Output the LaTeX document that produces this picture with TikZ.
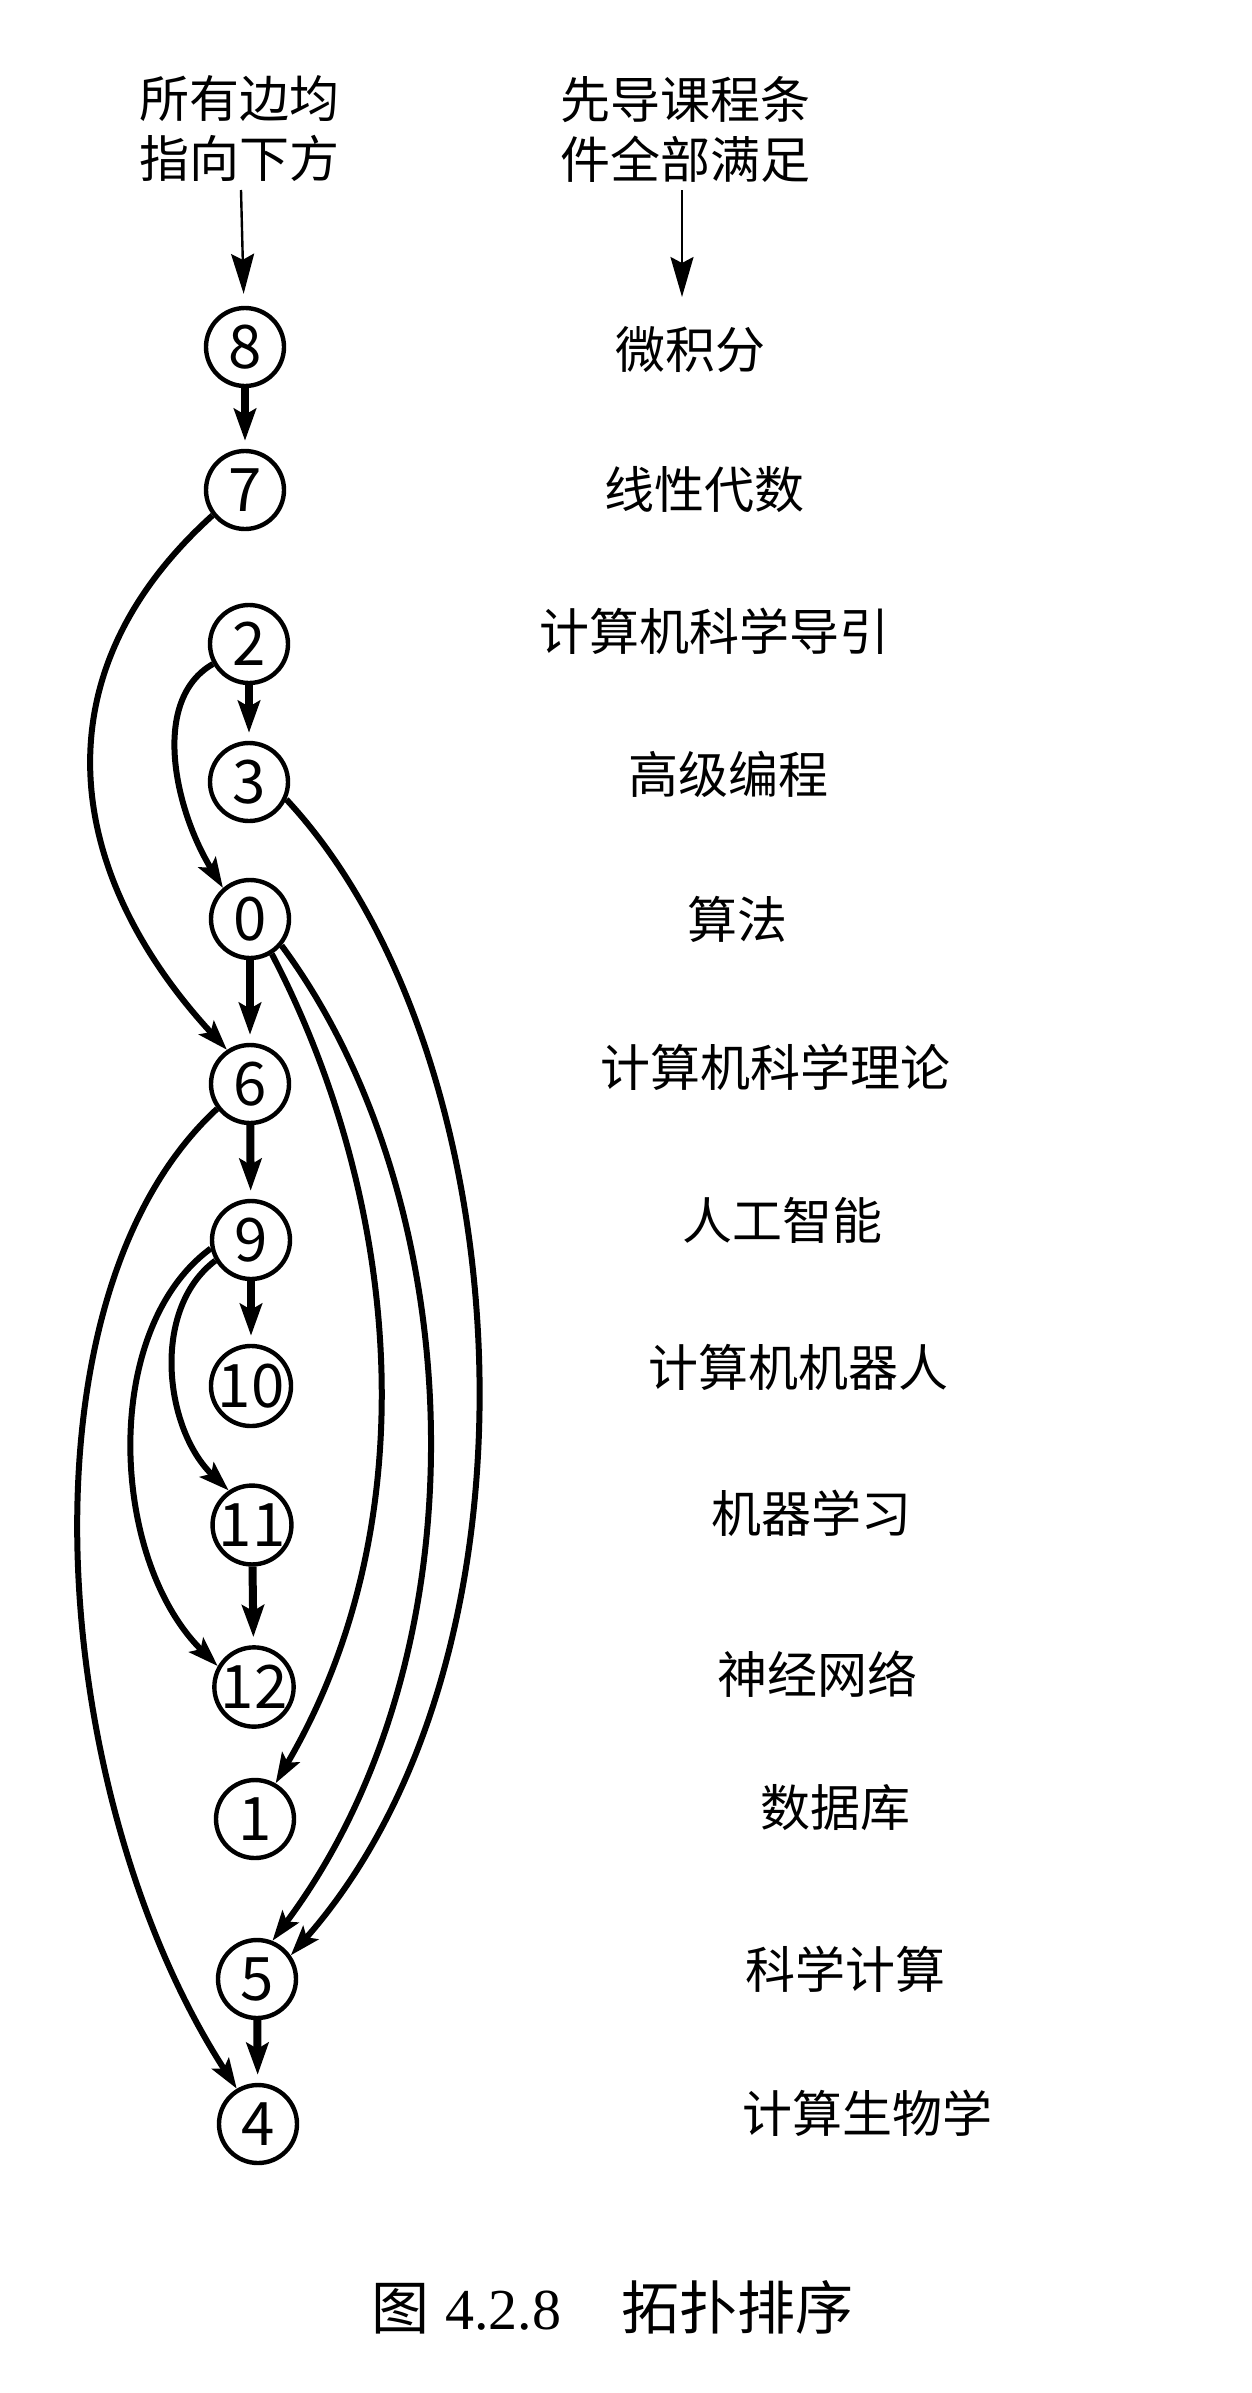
\documentclass[tikz,border=0pt]{standalone}
\usepackage{fontspec}
\setmainfont{Liberation Serif}
\newfontfamily\cjk{Noto Sans CJK SC}
\usetikzlibrary{arrows.meta}
\tikzset{
  vertex/.style={circle,draw,line width=2.2pt,minimum size=39pt,inner sep=0pt,
    font=\cjk\fontsize{30pt}{30pt}\selectfont},
  course/.style={inner sep=0pt,font=\cjk\fontsize{25pt}{30pt}\selectfont},
  dep/.style={line width=4pt,shorten >=4pt,-{Stealth[length=16pt,width=11pt,inset=3pt]}},
  curved/.style={line width=3pt,-{Stealth[length=15pt,width=10pt,inset=3pt]}},
  hint/.style={line width=1.2pt,-{Stealth[length=20pt,width=11.5pt,inset=3pt]}}
}
\begin{document}
\begin{tikzpicture}[x=0.5pt,y=-0.5pt]
\path[use as bounding box] (0,0) rectangle (1252,2393);
\node[course,align=center] (all) at (239,129) {所有边均\\指向下方};
\node[course,align=center] (pre) at (685,129) {先导课程条\\件全部满足};
\node[vertex] (v8) at (245,347) {8};
\node[vertex] (v7) at (245,490) {7};
\node[vertex] (v2) at (249,644) {2};
\node[vertex] (v3) at (249,782) {3};
\node[vertex] (v0) at (250,919) {0};
\node[vertex] (v6) at (250,1084) {6};
\node[vertex] (v9) at (251,1240) {9};
\node[vertex] (v10) at (251,1386) {10};
\node[vertex] (v11) at (252,1525) {11};
\node[vertex] (v12) at (254,1687) {12};
\node[vertex] (v1) at (255,1819) {1};
\node[vertex] (v5) at (257,1979) {5};
\node[vertex] (v4) at (258,2124) {4};
\node[course] (l8) at (690,350) {微积分};
\node[course] (l7) at (704,490) {线性代数};
\node[course] (l2) at (714,631) {计算机科学导引};
\node[course] (l3) at (728,774) {高级编程};
\node[course] (l0) at (737,919) {算法};
\node[course] (l6) at (775,1067) {计算机科学理论};
\node[course] (l9) at (782,1220) {人工智能};
\node[course] (l10) at (798,1367) {计算机机器人};
\node[course] (l11) at (811,1513) {机器学习};
\node[course] (l12) at (817,1674) {神经网络};
\node[course] (l1) at (835,1808) {数据库};
\node[course] (l5) at (845,1969) {科学计算};
\node[course] (l4) at (867,2113) {计算生物学};
\node[inner sep=0pt,font=\fontsize{29pt}{29pt}\selectfont] (cap) at (612,2307)
  {{\cjk 图}\hspace{8pt}4.2.8\hspace{30pt}{\cjk 拓扑排序}};
\coordinate (s1) at (241,190);
\coordinate (s2) at (682,190);
\coordinate (e2) at (682,297);
\draw[hint,shorten >=6pt] (s1) -- (v8);
\draw[hint] (s2) -- (e2);
\draw[dep] (v8) -- (v7);
\draw[dep] (v2) -- (v3);
\draw[dep] (v0) -- (v6);
\draw[dep] (v6) -- (v9);
\draw[dep] (v9) -- (v10);
\draw[dep] (v11) -- (v12);
\draw[dep] (v5) -- (v4);
\draw[curved] (v7.218) .. controls (30,680) and (70,880) .. (v6.124);
\draw[curved] (v2.209) .. controls (150,700) and (175,810) .. (v0.131);
\draw[curved] (v3.-25) .. controls (520,1050) and (560,1650) .. (v5.35);
\draw[curved] (v0.-58) .. controls (400,1200) and (430,1520) .. (v1.60);
\draw[curved] (v0.-40) .. controls (470,1200) and (490,1650) .. (v5.68);
\draw[curved] (v6.217) .. controls (10,1300) and (50,1800) .. (v4.121);
\draw[curved] (v9.210) .. controls (150,1310) and (165,1430) .. (v11.124);
\draw[curved] (v9.192) .. controls (100,1330) and (110,1560) .. (v12.150);
\end{tikzpicture}
\end{document}
